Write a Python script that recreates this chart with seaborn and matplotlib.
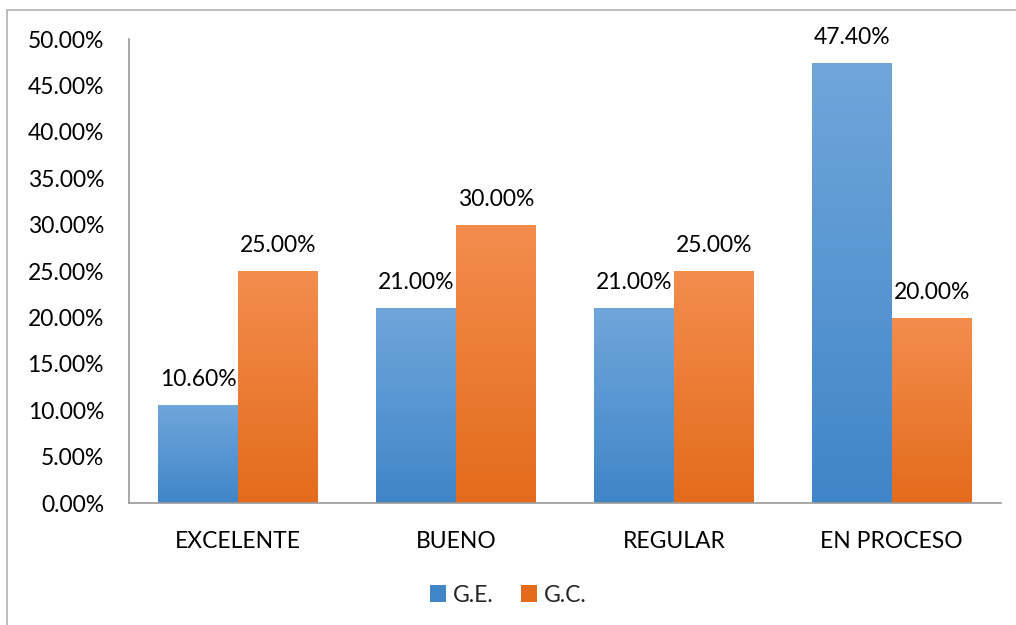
import matplotlib
matplotlib.use("Agg")

import numpy as np
import pandas as pd
import matplotlib.pyplot as plt
import seaborn as sns
from matplotlib.colors import LinearSegmentedColormap
from matplotlib.patches import Rectangle
from matplotlib.ticker import FuncFormatter

# ======================================================
# Data
# ======================================================

categories = ["EXCELENTE", "BUENO", "REGULAR", "EN PROCESO"]
series_names = ["G.E.", "G.C."]
ge_values = [0.106, 0.21, 0.21, 0.474]
gc_values = [0.25, 0.30, 0.25, 0.20]

# top / bottom colours of each gradient fill
gradient_colors = {
    "G.E.": ("#70a6db", "#4085c8"),
    "G.C.": ("#f38d4e", "#e46b1b"),
}

df = pd.DataFrame({
    "categoria": categories * 2,
    "grupo": [series_names[0]] * 4 + [series_names[1]] * 4,
    "valor": ge_values + gc_values,
})

FONT_SIZE = 16.5

# ======================================================
# Plot
# ======================================================

sns.set_theme(style="white")
plt.rcParams["font.family"] = ["Lato", "DejaVu Sans"]

fig = plt.figure(figsize=(10.16, 6.25), dpi=100)
ax = fig.add_axes([0.127, 0.195, 0.858, 0.7425])

palette = {k: v[1] for k, v in gradient_colors.items()}

sns.barplot(
    data=df,
    x="categoria",
    y="valor",
    hue="grupo",
    order=categories,
    hue_order=series_names,
    palette=palette,
    width=0.734,
    saturation=1,
    legend=False,
    ax=ax,
)

ax.set_ylim(0, 0.5)
ax.set_yticks(np.arange(0, 0.501, 0.05))
ax.yaxis.set_major_formatter(FuncFormatter(lambda v, _: f"{v * 100:.2f}%"))

ax.set_xlabel("")
ax.set_ylabel("")
ax.tick_params(axis="both", length=0, labelsize=FONT_SIZE, colors="black")
ax.tick_params(axis="y", pad=18)
ax.tick_params(axis="x", pad=20)

for side in ["top", "right"]:
    ax.spines[side].set_visible(False)
for side in ["left", "bottom"]:
    ax.spines[side].set_color("#9a9a9a")
    ax.spines[side].set_linewidth(1.2)

# gradient fill + value labels
bars = [p for p in ax.patches if p.get_height() > 0]
groups = [series_names[0]] * 4 + [series_names[1]] * 4
values = ge_values + gc_values

for patch, grupo, value in zip(bars, groups, values):
    top, bottom = gradient_colors[grupo]
    cmap = LinearSegmentedColormap.from_list(grupo, [bottom, top])
    x0 = patch.get_x()
    w = patch.get_width()
    h = patch.get_height()
    grad = np.linspace(0, 1, 256).reshape(-1, 1)
    img = ax.imshow(
        grad,
        cmap=cmap,
        extent=[x0, x0 + w, 0, h],
        origin="lower",
        aspect="auto",
        zorder=patch.get_zorder() + 0.1,
    )
    img.set_clip_path(patch)

    ax.text(
        x0 + w / 2,
        h + 0.016,
        f"{value * 100:.2f}%",
        ha="center",
        va="bottom",
        fontsize=FONT_SIZE,
        color="black",
        zorder=5,
    )

ax.set_xlim(-0.5, len(categories) - 0.5)
ax.set_ylim(0, 0.5)

# legend
handles = [
    Rectangle((0, 0), 1, 1, facecolor=gradient_colors[name][1], edgecolor="none")
    for name in series_names
]
fig.legend(
    handles,
    series_names,
    loc="center",
    bbox_to_anchor=(0.5, 0.048),
    ncol=2,
    frameon=False,
    fontsize=FONT_SIZE,
    handlelength=0.7,
    handleheight=0.7,
    handletextpad=0.3,
    columnspacing=1.2,
)

# chart border
fig.patches.append(
    Rectangle(
        (7 / 1016, -0.1),
        1.2,
        1.1 - 10 / 625,
        transform=fig.transFigure,
        fill=False,
        edgecolor="#b0b0b0",
        linewidth=1.2,
    )
)

plt.savefig("out.png", dpi=100)
plt.close()
